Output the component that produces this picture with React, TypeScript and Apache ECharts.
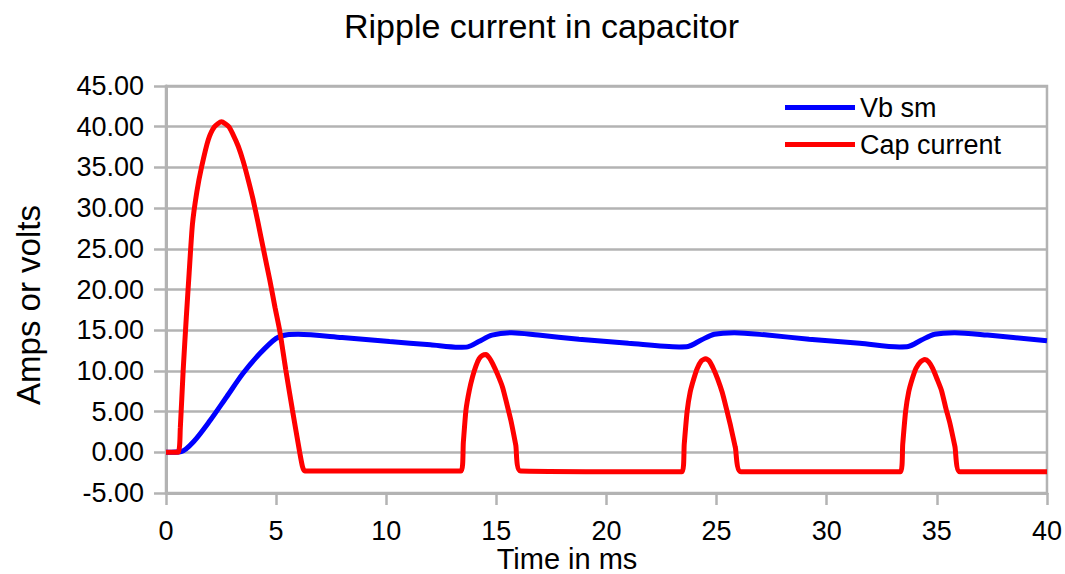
import React, { useEffect, useRef } from "react";
import * as echarts from "echarts";

const titleText = "Ripple current in capacitor";
const xAxisName = "Time in ms";
const yAxisName = "Amps or volts";
const seriesNames = ["Vb sm", "Cap current"];

// Vb sm (blue)
const vbTime = [0, 0.7, 1.25, 2.0, 2.75, 3.5, 4.25, 5.0, 5.5, 6.0, 8, 10.15, 12, 13.3, 13.7, 14.2, 14.8, 15.7, 16.9, 18.75, 21, 23.3, 23.7, 24.3, 24.9, 25.8, 27.3, 29.2, 31.5, 33.3, 33.7, 34.3, 34.9, 35.8, 37.3, 40];
const vbValues = [0, 0.1, 1.3, 3.9, 6.8, 9.7, 12.1, 14.0, 14.45, 14.5, 14.1, 13.6, 13.2, 12.9, 12.95, 13.6, 14.4, 14.7, 14.4, 13.9, 13.4, 12.95, 13.0, 13.8, 14.5, 14.7, 14.4, 13.9, 13.4, 12.95, 13.0, 13.8, 14.5, 14.7, 14.4, 13.7];

// Cap current (red)
const capTime = [
  0, 0.55, 0.65, 0.78, 0.92, 1.05, 1.2, 1.4, 1.62, 1.92, 2.2, 2.52, 2.85, 3.05, 3.28, 3.5, 3.73, 3.95, 4.18, 4.45, 4.71, 4.95, 5.16, 5.44, 5.74, 6.07, 6.2, 6.3,
  13.4, 13.5, 13.62, 13.77, 13.92, 14.07, 14.22, 14.37, 14.53, 14.68, 14.83, 15.05, 15.28, 15.47, 15.66, 15.88, 16.1,
  23.43, 23.53, 23.66, 23.8, 23.96, 24.12, 24.3, 24.5, 24.67, 24.85, 25.05, 25.25, 25.45, 25.63, 25.85, 26.1,
  33.35, 33.45, 33.58, 33.72, 33.88, 34.05, 34.25, 34.46, 34.63, 34.81, 35.01, 35.21, 35.4, 35.59, 35.82, 36.05,
  40,
];
const capValues = [
  0, 0, 3, 10.1, 16.5, 22, 28, 32, 35.1, 38.4, 40.0, 40.6, 40.0, 39.0, 37.6, 35.8, 33.5, 31.1, 28.2, 24.6, 21.2, 17.8, 15.0, 10.1, 5.2, 0, -1.8, -2.3,
  -2.3, 1.2, 5.2, 7.6, 9.3, 10.6, 11.5, 11.9, 12.0, 11.6, 10.9, 9.6, 8.0, 6.0, 3.9, 0.9, -2.3,
  -2.4, 1.0, 5.0, 7.4, 9.0, 10.3, 11.2, 11.5, 11.2, 10.3, 9.0, 7.4, 5.3, 3.3, 0.6, -2.4,
  -2.4, 1.0, 5.0, 7.4, 9.0, 10.3, 11.1, 11.4, 11.1, 10.3, 9.0, 7.6, 5.5, 3.6, 0.7, -2.4,
  -2.4,
];

const yMin = -5;
const yMax = 45;
const yStep = 5;
const xMin = 0;
const xMax = 40;
const xStep = 5;

const FONT = "'Liberation Sans', Arial, sans-serif";
const GRID_COLOR = "#b3b3b3";

export default function App() {
  const ref = useRef<HTMLDivElement>(null);
  useEffect(() => {
    if (!ref.current) return;
    const chart = echarts.init(ref.current, undefined, { renderer: "svg" });
    const vbData = vbTime.map((t, i) => [t, vbValues[i]]);
    const capData = capTime.map((t, i) => [t, capValues[i]]);
    chart.setOption({
      animation: false,
      backgroundColor: "#ffffff",
      textStyle: { fontFamily: FONT },
      title: {
        text: titleText,
        left: 339,
        top: 4,
        textStyle: { fontFamily: FONT, fontSize: 34, fontWeight: "normal", color: "#000" },
      },
      legend: {
        orient: "vertical",
        left: 780,
        top: 89,
        itemWidth: 70,
        itemHeight: 5,
        itemGap: 10,
        icon: "rect",
        textStyle: { fontFamily: FONT, fontSize: 27, color: "#000" },
        data: seriesNames,
      },
      grid: {
        left: 166,
        right: 16,
        top: 86,
        bottom: 81,
        show: true,
        borderColor: GRID_COLOR,
        borderWidth: 2.5,
        containLabel: false,
      },
      xAxis: {
        type: "value",
        min: xMin,
        max: xMax,
        interval: xStep,
        axisLine: { onZero: false, lineStyle: { color: GRID_COLOR, width: 3 } },
        axisTick: { show: true, length: 12, lineStyle: { color: GRID_COLOR, width: 2.5 } },
        splitLine: { show: false },
        axisLabel: { fontFamily: FONT, fontSize: 27, color: "#000", margin: 24 },
      },
      yAxis: {
        type: "value",
        min: yMin,
        max: yMax,
        interval: yStep,
        axisLine: { show: true, lineStyle: { color: GRID_COLOR, width: 3 } },
        axisTick: { show: true, length: 12, lineStyle: { color: GRID_COLOR, width: 2.5 } },
        splitLine: { show: true, lineStyle: { color: GRID_COLOR, width: 2.5 } },
        axisLabel: {
          fontFamily: FONT,
          fontSize: 27,
          color: "#000",
          margin: 22,
          formatter: (v: number) => v.toFixed(2),
        },
      },
      graphic: [
        {
          type: "text",
          x: 28,
          y: 305,
          rotation: Math.PI / 2,
          style: {
            text: yAxisName,
            fontFamily: FONT,
            fontSize: 33,
            fill: "#000",
            textAlign: "center",
            textVerticalAlign: "middle",
          },
        },
        {
          type: "text",
          x: 567,
          y: 559,
          style: {
            text: xAxisName,
            fontFamily: FONT,
            fontSize: 29,
            fill: "#000",
            textAlign: "center",
            textVerticalAlign: "middle",
          },
        },
      ],
      series: [
        {
          name: seriesNames[0],
          type: "line",
          data: vbData,
          showSymbol: false,
          symbol: "none",
          smooth: 0.3,
          lineStyle: { color: "#0000ff", width: 5 },
          itemStyle: { color: "#0000ff" },
        },
        {
          name: seriesNames[1],
          type: "line",
          data: capData,
          showSymbol: false,
          symbol: "none",
          smooth: 0.2,
          lineStyle: { color: "#ff0000", width: 5 },
          itemStyle: { color: "#ff0000" },
        },
      ],
    });
    return () => chart.dispose();
  }, []);
  return (
    <div
      ref={ref}
      style={{ position: "fixed", left: 0, top: 0, width: 1065, height: 574, background: "#fff" }}
    />
  );
}
